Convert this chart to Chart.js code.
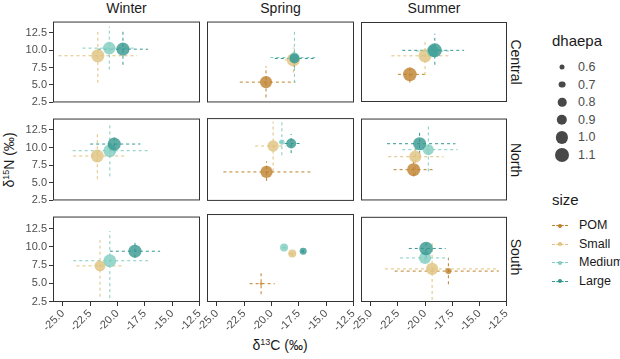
<!DOCTYPE html>
<html>
<head>
<meta charset="utf-8">
<script src="https://cdn.jsdelivr.net/npm/chart.js@4.4.1/dist/chart.umd.min.js"></script>
<style>
  body { margin: 0; width: 620px; height: 359px; background: #fff; position: relative; overflow: hidden;
         font-family: "Liberation Sans", Arial, sans-serif; color: #1a1a1a; }
  canvas { position: absolute; }
  .strip { position: absolute; font-size: 14px; white-space: nowrap; transform: translate(-50%, -50%); }
  .strip.row { transform: translate(-50%, -50%) rotate(90deg); }
  .title { position: absolute; font-size: 14px; white-space: nowrap; transform: translate(-50%, -50%); }
  .title sup { font-size: 9px; vertical-align: 5px; }
  .lg { position: absolute; font-size: 12.5px; color: #4d4d4d; transform: translateY(-50%); white-space: nowrap; }
  .lgt { position: absolute; font-size: 15px; color: #1a1a1a; }
  .dot { position: absolute; border-radius: 50%; transform: translate(-50%, -50%); }
  .dash { position: absolute; width: 16px; border-top: 1px dashed; }
</style>
</head>
<body>
<div id="labels"></div>
<script>
// =========================
// Data (panel order: Central W/Sp/Su, North W/Sp/Su, South W/Sp/Su)
// =========================

const seasons = ["Winter", "Spring", "Summer"];
const sites = ["Central", "North", "South"];
const groups = ["POM", "Small", "Medium", "Large"];
const groupColors = ["#BF812D", "#DFC27D", "#80CDC1", "#35978F"];

const xTicks = [-25, -22.5, -20, -17.5, -15, -12.5];
const yTicks = [2.5, 5, 7.5, 10, 12.5];
const sizeBreaks = [0.6, 0.7, 0.8, 0.9, 1.0, 1.1];

// POM
const pomC = [null, -20.5, -21.4, null, -20.45, -21.05, null, -20.95, -17.85];
const pomN = [null, 5.4, 6.5, null, 6.55, 6.85, null, 4.9, 6.7];
const pomCRange = [null, [-22.9, -17.8], [-22.5, -19.9], null, [-24.4, -16.3], [-22.9, -19.2], null, [-22.0, -19.7], [-22.8, -13.2]];
const pomNRange = [null, [3.2, 7.7], [5.3, 7.5], null, [5.3, 8.05], [5.9, 8.0], null, [3.5, 6.4], [4.9, 8.5]];
const pomSize = [null, 1.0, 1.08, null, 1.0, 1.05, null, 0.48, 0.66];

// Small
const smallC = [-21.8, -18.0, -20.0, -21.85, -19.85, -20.9, -21.6, -18.1, -19.35];
const smallN = [9.2, 8.6, 9.2, 8.8, 10.2, 8.7, 7.4, 8.9, 7.0];
const smallCRange = [[-25.4, -18.2], [-18.8, -17.2], [-23.1, -17.6], [-24.05, -19.3], [-21.5, -18.7], [-23.4, -18.3], [-23.75, -19.6], [-18.4, -17.8], [-23.7, -13.3]];
const smallNRange = [[5.3, 13.0], [6.8, 10.4], [6.4, 11.5], [5.5, 12.3], [6.6, 13.6], [6.1, 10.45], [3.2, 10.9], [8.6, 9.2], [2.75, 10.5]];
const smallSize = [1.05, 1.05, 1.05, 1.04, 0.95, 1.0, 0.93, 0.77, 1.0];

// Medium
const mediumC = [-20.75, -17.9, -19.3, -20.7, -19.05, -19.7, -20.7, -18.85, -20.0];
const mediumN = [10.3, 8.95, 9.9, 9.55, 10.75, 9.7, 8.1, 9.7, 8.5];
const mediumCRange = [[-23.2, -18.3], [-20.1, -15.8], [-20.8, -17.8], [-24.1, -17.2], [-19.3, -18.8], [-22.1, -17.0], [-24.05, -17.2], [-19.0, -18.7], [-22.3, -17.8]];
const mediumNRange = [[7.2, 13.4], [5.3, 13.0], [9.0, 10.8], [5.9, 13.2], [8.9, 13.6], [6.6, 13.0], [3.0, 12.15], [9.5, 9.9], [8.0, 9.0]];
const mediumSize = [1.02, 0.88, 1.0, 1.04, 0.62, 0.93, 1.04, 0.77, 1.0];

// Large
const largeC = [-19.5, -17.9, -19.1, -20.3, -18.2, -20.5, -18.4, -17.1, -19.9];
const largeN = [10.15, 8.8, 10.0, 10.5, 10.55, 10.55, 9.4, 9.2, 9.8];
const largeCRange = [[-21.8, -17.2], [-19.7, -16.0], [-22.1, -16.4], [-22.5, -17.9], [-18.8, -17.4], [-23.5, -17.2], [-20.7, -16.1], [-17.3, -16.9], [-21.5, -18.1]];
const largeNRange = [[7.9, 13.0], [7.5, 10.2], [7.9, 12.4], [9.3, 11.6], [9.2, 11.9], [9.1, 12.1], [8.5, 10.9], [9.0, 9.4], [8.5, 10.9]];
const largeSize = [1.05, 0.88, 1.1, 1.05, 0.88, 1.05, 1.05, 0.71, 1.08];

const groupData = [
  { c: pomC, n: pomN, cr: pomCRange, nr: pomNRange, s: pomSize },
  { c: smallC, n: smallN, cr: smallCRange, nr: smallNRange, s: smallSize },
  { c: mediumC, n: mediumN, cr: mediumCRange, nr: mediumNRange, s: mediumSize },
  { c: largeC, n: largeN, cr: largeCRange, nr: largeNRange, s: largeSize }
];

// =========================
// Layout
// =========================

const colLeft = [53, 207, 361];
const colRight = [200, 354, 507];
const rowTop = [17, 114, 212];
const rowBottom = [107, 205, 302];
const xMin = -25.9, xMax = -12.45;
const yMin = 2.47, yMax = 14.13;

const radiusFor = d => 2.5 + (d - 0.6) * 9;

function alpha(hex, a) {
  const v = parseInt(hex.slice(1), 16);
  return `rgba(${v >> 16},${(v >> 8) & 255},${v & 255},${a})`;
}

// panel border
const borderPlugin = {
  id: "panelBorder",
  afterDraw(chart) {
    const { ctx, chartArea: a } = chart;
    ctx.save();
    ctx.strokeStyle = "#333";
    ctx.lineWidth = 1;
    ctx.strokeRect(a.left + 0.5, a.top + 0.5, a.right - a.left - 1, a.bottom - a.top - 1);
    ctx.restore();
  }
};

function makePanel(r, c) {
  const i = r * 3 + c;
  const w = colRight[c] - colLeft[c];
  const h = rowBottom[r] - rowTop[r];
  const axisW = c === 0 ? 52 : 0;
  const padL = c === 0 ? 0 : 22;
  const padT = 2, padR = 10;
  const axisH = r === 2 ? 56 : 0;
  const padB = r === 2 ? 0 : 2;

  const cv = document.createElement("canvas");
  cv.width = padL + axisW + w + padR;
  cv.height = padT + h + axisH + padB;
  cv.style.left = (colLeft[c] - axisW - padL) + "px";
  cv.style.top = (rowTop[r] - padT) + "px";
  document.body.appendChild(cv);

  const datasets = [];
  groups.forEach((g, k) => {
    const d = groupData[k];
    if (d.c[i] === null) return;
    const col = groupColors[k];
    datasets.push({
      type: "line",
      data: [{ x: d.cr[i][0], y: d.n[i] }, { x: d.cr[i][1], y: d.n[i] }],
      borderColor: col, borderWidth: 1, borderDash: [3, 3],
      pointRadius: 0, fill: false, order: 20 - k
    });
    datasets.push({
      type: "line",
      data: [{ x: d.c[i], y: d.nr[i][0] }, { x: d.c[i], y: d.nr[i][1] }],
      borderColor: col, borderWidth: 1, borderDash: [3, 3],
      pointRadius: 0, fill: false, order: 20 - k
    });
    datasets.push({
      type: "scatter",
      data: [{ x: d.c[i], y: d.n[i] }],
      pointRadius: radiusFor(d.s[i]),
      pointBackgroundColor: alpha(col, 0.8),
      pointBorderWidth: 0,
      order: 3 - k
    });
  });

  new Chart(cv.getContext("2d"), {
    type: "scatter",
    data: { datasets },
    options: {
      responsive: false,
      animation: false,
      devicePixelRatio: 1,
      layout: { padding: { left: padL, top: padT, right: padR, bottom: padB } },
      plugins: { legend: { display: false }, tooltip: { enabled: false } },
      scales: {
        x: {
          type: "linear", min: xMin, max: xMax,
          display: r === 2,
          grid: { drawOnChartArea: false, drawTicks: true, tickLength: 4, color: "#333" },
          border: { display: false },
          ticks: {
            color: "#4d4d4d", font: { size: 11, family: "Liberation Sans" },
            maxRotation: 45, minRotation: 45, padding: 1, autoSkip: false,
            callback: v => v.toFixed(1)
          },
          afterBuildTicks: axis => { axis.ticks = xTicks.map(v => ({ value: v })); },
          afterFit: s => { s.height = axisH; s.paddingLeft = 0; s.paddingRight = 0; }
        },
        y: {
          type: "linear", min: yMin, max: yMax,
          display: c === 0,
          grid: { drawOnChartArea: false, drawTicks: true, tickLength: 4, color: "#333" },
          border: { display: false },
          ticks: {
            color: "#4d4d4d", font: { size: 11, family: "Liberation Sans" },
            padding: 2, autoSkip: false,
            callback: v => v.toFixed(1)
          },
          afterBuildTicks: axis => { axis.ticks = yTicks.map(v => ({ value: v })); },
          afterFit: s => { s.width = axisW; s.paddingTop = 0; s.paddingBottom = 0; }
        }
      }
    },
    plugins: [borderPlugin]
  });
}

for (let r = 0; r < 3; r++) for (let c = 0; c < 3; c++) makePanel(r, c);

// =========================
// Strips, axis titles, legends
// =========================

const labels = document.getElementById("labels");
function addEl(html, cls, x, y) {
  const el = document.createElement("div");
  el.className = cls;
  el.innerHTML = html;
  el.style.left = x + "px";
  el.style.top = y + "px";
  labels.appendChild(el);
  return el;
}

seasons.forEach((s, c) => addEl(s, "strip", (colLeft[c] + colRight[c]) / 2, 8));
sites.forEach((s, r) => addEl(s, "strip row", 516, (rowTop[r] + rowBottom[r]) / 2));

addEl("&delta;<sup>13</sup>C (&permil;)", "title", (colLeft[0] + colRight[2]) / 2, 345);
const yt = addEl("&delta;<sup>15</sup>N (&permil;)", "title", 9, (rowTop[0] + rowBottom[2]) / 2);
yt.style.transform = "translate(-50%, -50%) rotate(-90deg)";

// dhaepa legend
addEl("dhaepa", "lgt", 552, 32);
sizeBreaks.forEach((b, k) => {
  const y = 67 + k * 17.6;
  const rad = radiusFor(b);
  const d = addEl("", "dot", 562, y);
  d.style.width = d.style.height = (rad * 2) + "px";
  d.style.background = "rgba(40,40,40,0.85)";
  addEl(b.toFixed(1), "lg", 578, y);
});

// size legend
addEl("size", "lgt", 552, 191);
groups.forEach((g, k) => {
  const y = 225 + k * 18.5;
  const ln = addEl("", "dash", 552, y);
  ln.style.borderTopColor = groupColors[k];
  const d = addEl("", "dot", 560, y + 0.5);
  d.style.width = d.style.height = "4px";
  d.style.background = groupColors[k];
  const t = addEl(g, "lg", 579, y);
  t.style.color = "#1a1a1a";
});
</script>
</body>
</html>
